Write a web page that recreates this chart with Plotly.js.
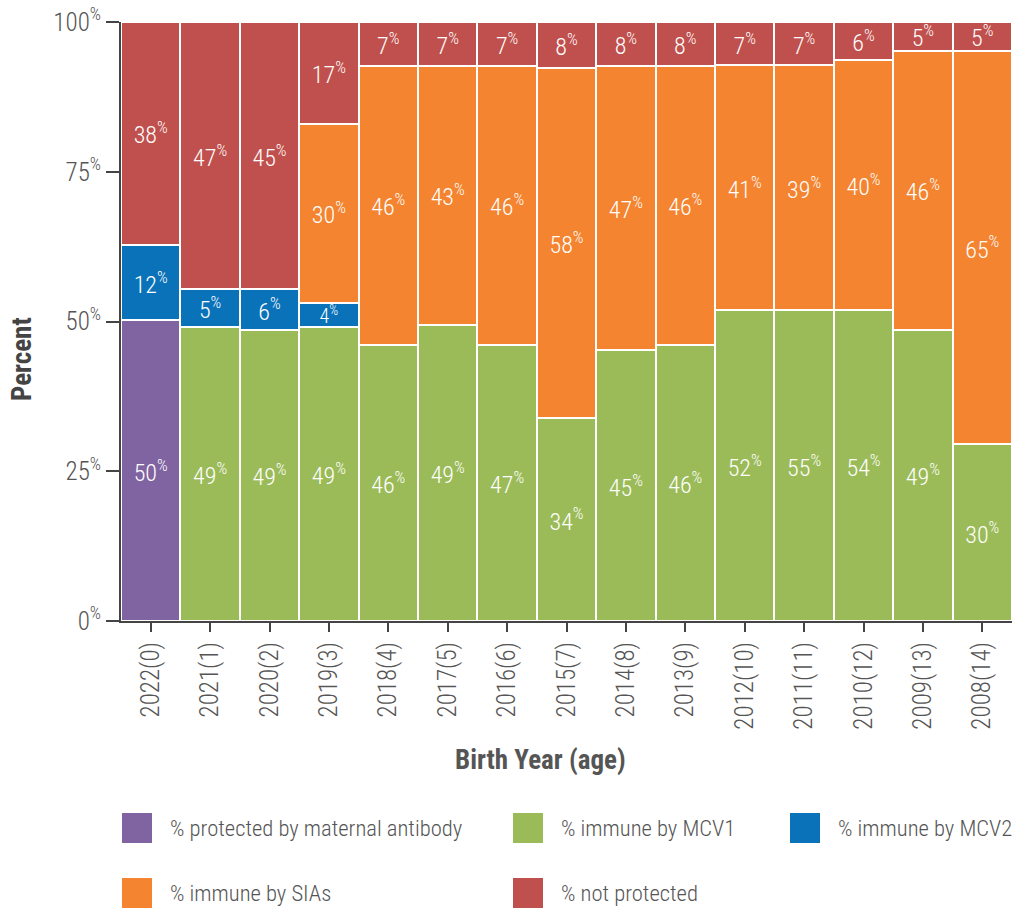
<!DOCTYPE html>
<html>
<head>
<meta charset="utf-8">
<script src="https://cdn.plot.ly/plotly-3.0.1.min.js"></script>
<style>html,body{margin:0;padding:0;background:#fff}#chart{width:1012px;height:908px}</style>
</head>
<body>
<div id="chart"></div>
<script>
// ---- data ----
var categories = ["2022(0)","2021(1)","2020(2)","2019(3)","2018(4)","2017(5)","2016(6)","2015(7)","2014(8)","2013(9)","2012(10)","2011(11)","2010(12)","2009(13)","2008(14)"];

var seriesNames = ["% protected by maternal antibody","% immune by MCV1","% immune by MCV2","% immune by SIAs","% not protected"];
var seriesColors = ["#8064A2","#9BBB59","#0A72B8","#F4842F","#C0504D"];

// segment heights (percent) as drawn
var maternal = [50.2, 0,0,0,0,0,0,0,0,0,0,0,0,0,0];
var mcv1     = [0, 49.1, 48.6, 49.1, 46.1, 49.4, 46.1, 33.9, 45.2, 46.1, 51.9, 51.9, 51.9, 48.6, 29.5];
var mcv2     = [12.6, 6.3, 6.8, 4.0, 0,0,0,0,0,0,0,0,0,0,0];
var sias     = [0, 0, 0, 29.9, 46.6, 43.3, 46.6, 58.4, 47.5, 46.6, 40.9, 40.9, 41.8, 46.6, 65.7];
var notProt  = [37.2, 44.6, 44.6, 17.0, 7.3, 7.3, 7.3, 7.7, 7.3, 7.3, 7.2, 7.2, 6.3, 4.8, 4.8];

// printed labels
var maternalLbl = [50, null,null,null,null,null,null,null,null,null,null,null,null,null,null];
var mcv1Lbl     = [null, 49, 49, 49, 46, 49, 47, 34, 45, 46, 52, 55, 54, 49, 30];
var mcv2Lbl     = [12, 5, 6, 4, null,null,null,null,null,null,null,null,null,null,null];
var siasLbl     = [null, null, null, 30, 46, 43, 46, 58, 47, 46, 41, 39, 40, 46, 65];
var notProtLbl  = [38, 47, 45, 17, 7, 7, 7, 8, 8, 8, 7, 7, 6, 5, 5];

var yTickVals = [0, 25, 50, 75, 100];

// ---- build ----
var FONT = "'Roboto Condensed', 'Roboto', sans-serif";
var allVals = [maternal, mcv1, mcv2, sias, notProt];
var allLbls = [maternalLbl, mcv1Lbl, mcv2Lbl, siasLbl, notProtLbl];

var traces = allVals.map(function(vals, i){
  var xs = [], ys = [], ts = [], sz = [];
  vals.forEach(function(v, k){
    if (v > 0) {
      xs.push(categories[k]);
      ys.push(v);
      ts.push(allLbls[i][k] + "<sup>%</sup>");
      sz.push(v < 5 && i === 2 ? 20 : 24);
    }
  });
  return {
    type: "bar",
    x: xs,
    y: ys,
    name: seriesNames[i],
    text: ts,
    textposition: "inside",
    insidetextanchor: "middle",
    textangle: 0,
    constraintext: "none",
    textfont: {family: FONT, size: sz, color: "#ffffff", weight: 300},
    hoverinfo: "none",
    marker: {color: seriesColors[i], line: {color: "#ffffff", width: 2}},
    showlegend: false
  };
});

// plot area in pixels
var L = 121, R = 1012, T = 22, B = 621;
function px(x){ return (x - L) / (R - L); }
function py(y){ return (B - y) / (B - T); }

var legendItems = [
  {i:0, x:122, y:828},
  {i:1, x:513, y:828},
  {i:2, x:790, y:828},
  {i:3, x:122, y:893},
  {i:4, x:513, y:893}
];
var shapes = [];
var annotations = [];
legendItems.forEach(function(it){
  shapes.push({type:"rect", xref:"paper", yref:"paper",
    x0: px(it.x), x1: px(it.x+30), y0: py(it.y+15), y1: py(it.y-15),
    fillcolor: seriesColors[it.i], line:{width:0}});
  annotations.push({xref:"paper", yref:"paper", x: px(it.x+46), y: py(it.y),
    xanchor:"left", yanchor:"middle", showarrow:false,
    text: seriesNames[it.i], font:{family:FONT, size:22.6, color:"#555555", weight:300}});
});
// axis titles
annotations.push({xref:"paper", yref:"paper", x: px(540), y: py(760), xanchor:"center", yanchor:"middle",
  showarrow:false, text:"Birth Year (age)", font:{family:FONT, size:27, color:"#555555", weight:700}});
annotations.push({xref:"paper", yref:"paper", x: px(22), y: py(359), xanchor:"center", yanchor:"middle",
  textangle:-90, showarrow:false, text:"Percent", font:{family:FONT, size:27, color:"#444444", weight:700}});

var layout = {
  width: 1012, height: 908,
  margin: {l: L, r: 1012 - R, t: T, b: 908 - B, pad: 0},
  barmode: "stack",
  bargap: 0,
  paper_bgcolor: "#ffffff",
  plot_bgcolor: "#ffffff",
  font: {family: FONT, color: "#555555"},
  xaxis: {
    type: "category",
    categoryorder: "array",
    categoryarray: categories,
    range: [-0.5, categories.length - 0.5],
    showgrid: false, zeroline: false,
    showline: true, linecolor: "#444444", linewidth: 2,
    ticks: "outside", ticklen: 9, tickwidth: 2, tickcolor: "#444444",
    tickangle: -90,
    tickfont: {family: FONT, size: 25, color: "#555555", weight: 300},
    automargin: false
  },
  yaxis: {
    range: [0, 100],
    showgrid: false, zeroline: false,
    showline: true, linecolor: "#444444", linewidth: 2,
    ticks: "outside", ticklen: 13, tickwidth: 2, tickcolor: "#444444",
    tickvals: yTickVals,
    ticktext: yTickVals.map(function(v){ return v + "<sup>%</sup>"; }),
    tickfont: {family: FONT, size: 25, color: "#555555", weight: 300},
    automargin: false
  },
  shapes: shapes,
  annotations: annotations,
  showlegend: false
};

Plotly.newPlot("chart", traces, layout, {displayModeBar: false, staticPlot: true});
</script>
</body>
</html>
